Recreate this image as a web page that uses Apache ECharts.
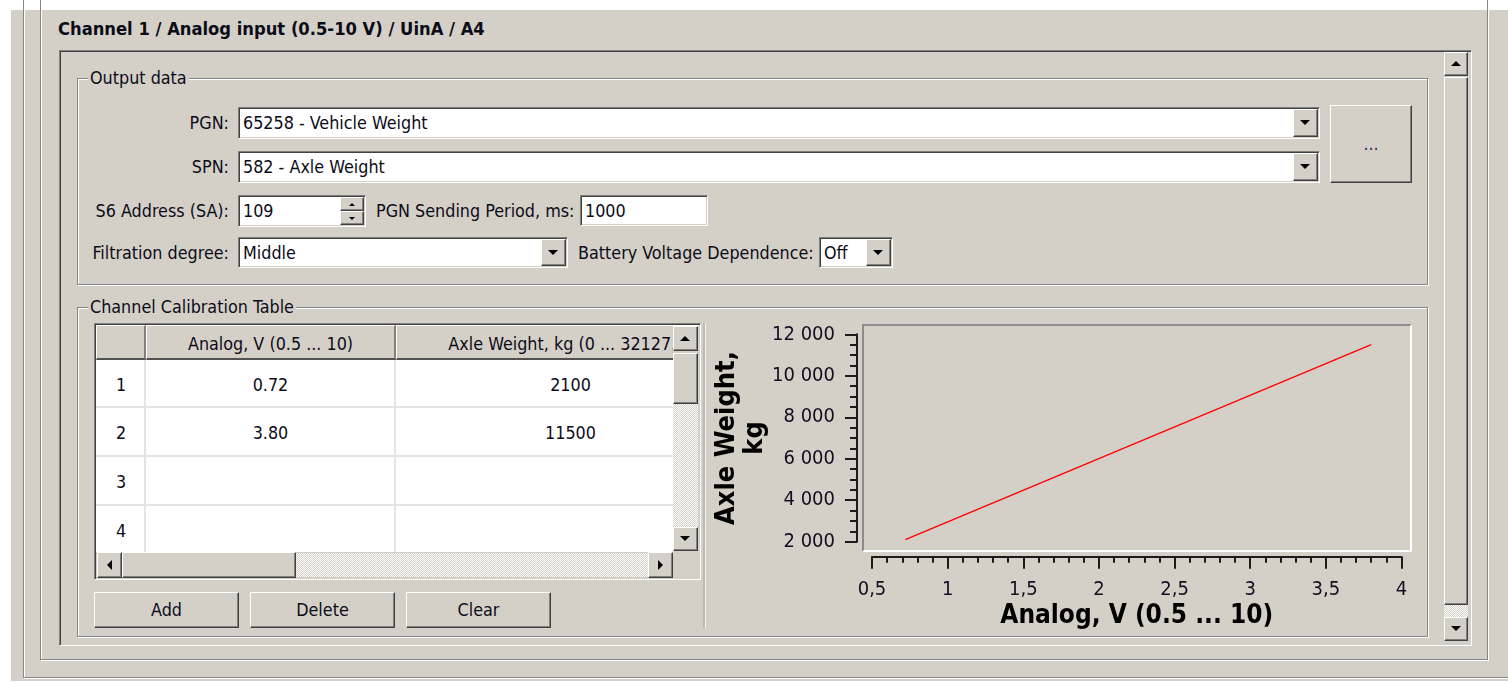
<!DOCTYPE html>
<html><head><meta charset="utf-8">
<script src="https://cdn.jsdelivr.net/npm/echarts@6/dist/echarts.min.js"></script>
<style>
html,body{margin:0;padding:0;width:1508px;height:683px;overflow:hidden;background:#fff;}
#ui{position:absolute;left:0;top:0;width:1508px;height:683px;font-family:"DejaVu Sans Condensed","DejaVu Sans",sans-serif;font-size:17.8px;color:#0c0c18;}
#ui div{position:absolute;box-sizing:border-box;white-space:nowrap;}
#chart{position:absolute;left:690px;top:318px;width:738px;height:318px;}
</style></head><body>
<div id="ui"></div>
<div id="chart"></div>
<script>
// ---- data ----
const rowNumbers = ['1', '2', '3', '4'];
const analogValues = [0.72, 3.80];
const weightValues = [2100, 11500];
const tableHeaders = ['Analog, V (0.5 ... 10)', 'Axle Weight, kg (0 ... 32127.5)'];
const xAxisTitle = 'Analog, V (0.5 ... 10)';
const yAxisTitle = 'Axle Weight,\nkg';
const xRange = [0.5, 4];
const yRange = [2000, 12000];
const xStep = 0.5;
const yStep = 2000;

// ---- classic windows UI ----
const ui = document.getElementById('ui');
const BG = '#d4d0c8';
function box(x1, y1, x2, y2, css, parent) {
  const d = document.createElement('div');
  d.style.cssText = `left:${x1}px;top:${y1}px;width:${x2 - x1}px;height:${y2 - y1}px;` + (css || '');
  (parent || ui).appendChild(d);
  return d;
}
function label(x, cy, str, align, css, parent) {
  let d;
  if (align === 'right') d = box(x - 400, cy - 11, x, cy + 11, 'text-align:right;line-height:22px;' + (css || ''), parent);
  else if (align === 'center') d = box(x - 200, cy - 11, x + 200, cy + 11, 'text-align:center;line-height:22px;' + (css || ''), parent);
  else d = box(x, cy - 11, x + 600, cy + 11, 'line-height:22px;' + (css || ''), parent);
  d.style.width = align ? d.style.width : 'auto';
  d.textContent = str;
  return d;
}
function etched(x1, y1, x2, y2) {
  box(x1 + 1, y1 + 1, x2 + 1, y2 + 1, 'border:1px solid #fff;');
  box(x1, y1, x2, y2, 'border:1px solid #868686;');
}
function raised(x1, y1, x2, y2, parent) {
  return box(x1, y1, x2, y2, `background:${BG};border:1px solid;border-color:#fff #404040 #404040 #fff;box-shadow:inset -1px -1px #808080;`, parent);
}
function sunken(x1, y1, x2, y2, bg, parent) {
  return box(x1, y1, x2, y2, `background:${bg};border:1px solid;border-color:#808080 #fff #fff #808080;box-shadow:inset 1px 1px #404040, inset -1px -1px ${BG};`, parent);
}
function tri(cx, cy, dir, size, parent) {
  const s = size || 5.5;
  let css = 'width:0;height:0;';
  if (dir === 'down') css += `border-left:${s}px solid transparent;border-right:${s}px solid transparent;border-top:${s}px solid #000;`;
  if (dir === 'up') css += `border-left:${s}px solid transparent;border-right:${s}px solid transparent;border-bottom:${s}px solid #000;`;
  if (dir === 'left') css += `border-top:${s}px solid transparent;border-bottom:${s}px solid transparent;border-right:${s}px solid #000;`;
  if (dir === 'right') css += `border-top:${s}px solid transparent;border-bottom:${s}px solid transparent;border-left:${s}px solid #000;`;
  const w = (dir === 'up' || dir === 'down') ? 2 * s : s;
  const h = (dir === 'up' || dir === 'down') ? s : 2 * s;
  box(cx - w / 2, cy - h / 2, cx - w / 2, cy - h / 2, css, parent);
}
function dotted(x1, y1, x2, y2, parent) {
  box(x1, y1, x2, y2, `background:repeating-conic-gradient(#fff 0 25%, ${BG} 0 50%) 0 0/2px 2px;`, parent);
}
function combo(x1, y1, x2, y2, txt) {
  sunken(x1, y1, x2, y2, '#fff');
  label(x1 + 5, (y1 + y2) / 2, txt);
  raised(x2 - 27, y1 + 2, x2 - 2, y2 - 2);
  tri(x2 - 14.5, (y1 + y2) / 2, 'down', 5.5);
}
function edit(x1, y1, x2, y2, txt) {
  sunken(x1, y1, x2, y2, '#fff');
  label(x1 + 5, (y1 + y2) / 2, txt);
}
function groupTitle(x, cy, txt) {
  label(x, cy, txt, null, `background:${BG};padding:0 2px;`);
}

// background
box(11, 10, 1508, 681, `background:${BG};`);
etched(23, -10, 1530, 678);
etched(40, -10, 1488, 660);
label(58, 29, 'Channel  1 / Analog input (0.5-10 V) / UinA / A4', null, 'font-weight:bold;font-size:18.2px;');
// scroll box
sunken(59, 50, 1472, 646, BG);
// its scrollbar
raised(1444, 52, 1468, 76); tri(1456, 64, 'up', 5.5);
raised(1444, 77, 1468, 605);
dotted(1444, 605, 1468, 617);
raised(1444, 617, 1468, 641); tri(1456, 629, 'down', 5.5);

// Output data group
etched(77, 78, 1428, 285);
groupTitle(88, 78, 'Output data');
label(229, 123, 'PGN:', 'right');
combo(238, 107, 1320, 139, '65258 - Vehicle Weight');
label(229, 167, 'SPN:', 'right');
combo(238, 151, 1320, 183, '582 - Axle Weight');
raised(1330, 105, 1412, 183);
label(1371, 144, '...', 'center', 'color:#203060;');
label(229, 211, 'S6 Address (SA):', 'right');
edit(238, 195, 366, 227, '109');
raised(340, 197, 364, 211); tri(352, 204, 'up', 3);
raised(340, 211, 364, 225); tri(352, 218, 'down', 3);
label(376, 211, 'PGN Sending Period, ms:');
edit(580, 195, 708, 226, '1000');
label(229, 253, 'Filtration degree:', 'right');
combo(238, 237, 568, 268, 'Middle');
label(578, 253, 'Battery Voltage Dependence:');
combo(819, 237, 893, 268, 'Off');

// Calibration group
etched(77, 307, 1428, 637);
groupTitle(88, 307, 'Channel Calibration Table');

// grid
sunken(94, 323, 701, 580, '#fff');
const clip = box(96, 325, 673, 552, 'overflow:hidden;background:#fff;');
const colX = [[0, 49], [50, 299], [300, 649]];
const rowY = [[35, 82], [83, 131], [132, 180], [181, 229]];
// header
colX.forEach((c, i) => {
  box(c[0], 0, c[1] + 1, 35, `background:${BG};border-top:1px solid #fff;border-left:1px solid #fff;border-right:2px solid #808080;border-bottom:2px solid #505050;`, clip);
  if (i > 0) label((c[0] + c[1]) / 2, 19, tableHeaders[i - 1], 'center', '', clip);
});
rowY.forEach((r, ri) => {
  colX.forEach((c, ci) => {
    box(c[0], r[0], c[1] + 1, r[1] + 1, 'border-right:2px solid #e4e4e4;border-bottom:2px solid #e4e4e4;', clip);
  });
  const cy = (r[0] + r[1]) / 2 + 1;
  label(25, cy, rowNumbers[ri], 'center', '', clip);
  if (ri < analogValues.length) {
    label((colX[1][0] + colX[1][1]) / 2, cy, analogValues[ri].toFixed(2), 'center', '', clip);
    label((colX[2][0] + colX[2][1]) / 2, cy, String(weightValues[ri]), 'center', '', clip);
  }
});
// grid scrollbars
box(673, 326, 699, 552, `background:${BG};`);
raised(673, 326, 698, 351); tri(685.5, 338.5, 'up', 5.5);
raised(673, 353, 698, 404);
dotted(673, 404, 698, 527);
raised(673, 527, 698, 551); tri(685.5, 539, 'down', 5.5);
box(96, 552, 699, 578, `background:${BG};`);
raised(97, 552, 122, 578); tri(109.5, 565, 'left', 5.5);
raised(122, 552, 296, 578);
dotted(296, 553, 648, 577);
raised(648, 552, 673, 578); tri(660.5, 565, 'right', 5.5);
// buttons
[['Add', 94, 239], ['Delete', 250, 395], ['Clear', 406, 551]].forEach(b => {
  raised(b[1], 592, b[2], 628);
  label((b[1] + b[2]) / 2, 610, b[0], 'center');
});
// splitter
box(703, 323, 705, 628, 'background:#bdbab3;');
box(705, 323, 706, 628, 'background:#f4f3f0;');
// chart plot frame (sunken)
box(862, 324, 1412, 552, 'border:2px solid;border-color:#8c8c8c #fff #fff #8c8c8c;');

// ---- chart ----
const fmtThousands = v => String(v).replace(/\B(?=(\d{3})+(?!\d))/g, ' ');
const fmtComma = v => String(v).replace('.', ',');
const axisColor = '#1b1b1b';
const FONT = '"DejaVu Sans Condensed","DejaVu Sans",sans-serif';
const chart = echarts.init(document.getElementById('chart'), null, { renderer: 'canvas' });
chart.setOption({
  backgroundColor: 'transparent',
  animation: false,
  grid: { left: 182, top: 16.3, width: 529.5, height: 207.4, containLabel: false, outerBoundsMode: 'none' },
  xAxis: {
    type: 'value', min: xRange[0], max: xRange[1], interval: xStep,
    offset: 15,
    axisLine: { show: true, lineStyle: { color: axisColor, width: 2 } },
    axisTick: { show: true, length: 12, lineStyle: { color: axisColor, width: 2 } },
    minorTick: { show: true, splitNumber: 5, length: 6, lineStyle: { color: axisColor, width: 2 } },
    splitLine: { show: false },
    axisLabel: { formatter: fmtComma, margin: 23, fontSize: 20, color: '#101020', fontFamily: FONT },
    name: xAxisTitle, nameLocation: 'middle', nameGap: 47, nameMoveOverlap: false,
    nameTextStyle: { fontSize: 26, fontWeight: 'bold', color: '#000', fontFamily: FONT }
  },
  yAxis: {
    type: 'value', min: yRange[0], max: yRange[1], interval: yStep,
    offset: 15,
    axisLine: { show: true, lineStyle: { color: axisColor, width: 2 } },
    axisTick: { show: true, length: 12, lineStyle: { color: axisColor, width: 2 } },
    minorTick: { show: true, splitNumber: 4, length: 7, lineStyle: { color: axisColor, width: 2 } },
    splitLine: { show: false },
    axisLabel: { formatter: fmtThousands, margin: 22, fontSize: 20, color: '#101020', fontFamily: FONT },
    name: yAxisTitle, nameLocation: 'middle', nameRotate: 90, nameGap: 88, nameMoveOverlap: false,
    nameTextStyle: { fontSize: 27, lineHeight: 28, fontWeight: 'bold', color: '#000', fontFamily: FONT }
  },
  series: [{
    type: 'line',
    data: analogValues.map((x, i) => [x, weightValues[i]]),
    showSymbol: false,
    lineStyle: { color: '#ff0000', width: 1.3 },
    silent: true
  }]
});
</script>
</body></html>
